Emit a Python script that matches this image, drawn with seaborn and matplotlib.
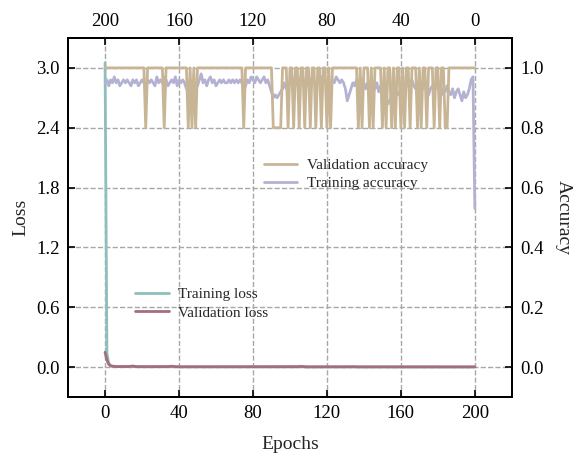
import numpy as np
import matplotlib
matplotlib.use("Agg")
import matplotlib.pyplot as plt
from matplotlib.ticker import FormatStrFormatter
import seaborn as sns

# ---- data -----------------------------------------------------------------
epochs = np.arange(201)

train_loss = [
    3.05, 0.14, 0.040, 0.016, 0.011, 0.009, 0.008, 0.007, 0.007, 0.006,
    0.006, 0.006, 0.005, 0.006, 0.005, 0.007, 0.006, 0.005, 0.005, 0.006,
    0.005, 0.005, 0.004, 0.005, 0.005, 0.004, 0.005, 0.005, 0.004, 0.004,
    0.005, 0.004, 0.004, 0.005, 0.004, 0.004, 0.005, 0.006, 0.004, 0.004,
    0.004, 0.004, 0.003, 0.004, 0.004, 0.003, 0.004, 0.004, 0.003, 0.004,
    0.003, 0.004, 0.003, 0.003, 0.004, 0.003, 0.003, 0.004, 0.003, 0.003,
    0.003, 0.003, 0.004, 0.003, 0.003, 0.003, 0.003, 0.004, 0.003, 0.003,
    0.003, 0.003, 0.003, 0.003, 0.004, 0.003, 0.003, 0.003, 0.003, 0.003,
    0.003, 0.003, 0.003, 0.003, 0.003, 0.003, 0.004, 0.003, 0.003, 0.003,
    0.003, 0.003, 0.003, 0.003, 0.003, 0.003, 0.003, 0.003, 0.003, 0.003,
    0.003, 0.003, 0.003, 0.003, 0.003, 0.004, 0.004, 0.003, 0.003, 0.003,
    0.003, 0.003, 0.003, 0.003, 0.003, 0.003, 0.003, 0.003, 0.003, 0.003,
    0.003, 0.003, 0.003, 0.003, 0.003, 0.003, 0.003, 0.003, 0.003, 0.003,
    0.003, 0.003, 0.003, 0.003, 0.003, 0.003, 0.003, 0.003, 0.003, 0.003,
    0.003, 0.003, 0.003, 0.003, 0.003, 0.003, 0.003, 0.003, 0.003, 0.003,
    0.003, 0.003, 0.003, 0.003, 0.003, 0.003, 0.003, 0.003, 0.003, 0.003,
    0.003, 0.003, 0.003, 0.003, 0.003, 0.003, 0.003, 0.003, 0.003, 0.003,
    0.003, 0.003, 0.003, 0.003, 0.003, 0.003, 0.003, 0.003, 0.003, 0.003,
    0.003, 0.003, 0.003, 0.003, 0.003, 0.003, 0.003, 0.003, 0.003, 0.003,
    0.003, 0.003, 0.003, 0.003, 0.003, 0.003, 0.003, 0.003, 0.003, 0.003,
    0.003,
]

val_loss = [
    0.150, 0.070, 0.028, 0.014, 0.009, 0.007, 0.006, 0.006, 0.005, 0.005,
    0.005, 0.005, 0.006, 0.007, 0.009, 0.012, 0.008, 0.006, 0.005, 0.005,
    0.004, 0.005, 0.004, 0.004, 0.005, 0.004, 0.004, 0.005, 0.004, 0.004,
    0.004, 0.004, 0.005, 0.004, 0.006, 0.008, 0.010, 0.007, 0.005, 0.004,
    0.004, 0.004, 0.003, 0.004, 0.004, 0.003, 0.004, 0.004, 0.003, 0.003,
    0.003, 0.004, 0.003, 0.003, 0.004, 0.003, 0.003, 0.004, 0.003, 0.003,
    0.003, 0.003, 0.004, 0.003, 0.003, 0.003, 0.003, 0.004, 0.003, 0.003,
    0.003, 0.003, 0.003, 0.003, 0.004, 0.003, 0.003, 0.003, 0.003, 0.003,
    0.003, 0.003, 0.003, 0.003, 0.003, 0.003, 0.004, 0.003, 0.003, 0.003,
    0.003, 0.003, 0.003, 0.003, 0.003, 0.003, 0.003, 0.003, 0.003, 0.003,
    0.003, 0.003, 0.003, 0.004, 0.005, 0.007, 0.008, 0.006, 0.004, 0.003,
    0.003, 0.003, 0.003, 0.003, 0.003, 0.003, 0.003, 0.003, 0.003, 0.003,
    0.003, 0.003, 0.003, 0.003, 0.003, 0.003, 0.003, 0.003, 0.003, 0.003,
    0.003, 0.003, 0.003, 0.004, 0.005, 0.004, 0.003, 0.003, 0.003, 0.003,
    0.003, 0.003, 0.003, 0.003, 0.003, 0.003, 0.003, 0.003, 0.003, 0.003,
    0.003, 0.003, 0.003, 0.003, 0.003, 0.003, 0.003, 0.003, 0.003, 0.003,
    0.003, 0.003, 0.003, 0.003, 0.003, 0.003, 0.003, 0.003, 0.003, 0.003,
    0.003, 0.003, 0.003, 0.003, 0.003, 0.003, 0.003, 0.003, 0.003, 0.003,
    0.003, 0.003, 0.003, 0.003, 0.003, 0.003, 0.003, 0.003, 0.003, 0.003,
    0.003, 0.003, 0.003, 0.003, 0.003, 0.003, 0.003, 0.003, 0.003, 0.003,
    0.003,
]

train_acc = [
    0.53, 0.97, 0.96, 0.93, 0.91, 0.90, 0.92, 0.89, 0.91, 0.93,
    0.92, 0.90, 0.93, 0.91, 0.92, 0.94, 0.92, 0.93, 0.91, 0.94,
    0.93, 0.95, 0.92, 0.94, 0.93, 0.91, 0.94, 0.95, 0.93, 0.94,
    0.92, 0.95, 0.93, 0.94, 0.96, 0.93, 0.95, 0.94, 0.92, 0.94,
    0.93, 0.91, 0.92, 0.90, 0.93, 0.91, 0.89, 0.88, 0.90, 0.92,
    0.93, 0.94, 0.92, 0.95, 0.93, 0.94, 0.96, 0.94, 0.95, 0.93,
    0.95, 0.96, 0.94, 0.95, 0.96, 0.94, 0.95, 0.93, 0.91, 0.89,
    0.93, 0.95, 0.96, 0.95, 0.96, 0.97, 0.95, 0.96, 0.94, 0.92,
    0.94, 0.96, 0.95, 0.97, 0.95, 0.96, 0.94, 0.96, 0.97, 0.95,
    0.96, 0.94, 0.96, 0.95, 0.97, 0.95, 0.96, 0.94, 0.96, 0.97,
    0.95, 0.94, 0.93, 0.95, 0.93, 0.92, 0.91, 0.90, 0.91, 0.90,
    0.92, 0.94, 0.96, 0.95, 0.97, 0.96, 0.95, 0.96, 0.97, 0.95,
    0.96, 0.97, 0.95, 0.96, 0.94, 0.93, 0.95, 0.96, 0.95, 0.96,
    0.95, 0.96, 0.95, 0.96, 0.95, 0.95, 0.96, 0.95, 0.96, 0.95,
    0.94, 0.96, 0.95, 0.97, 0.96, 0.94, 0.96, 0.95, 0.98, 0.96,
    0.94, 0.93, 0.95, 0.94, 0.96, 0.95, 0.93, 0.95, 0.96, 0.95,
    0.96, 0.94, 0.97, 0.95, 0.96, 0.95, 0.94, 0.96, 0.97, 0.95,
    0.96, 0.95, 0.97, 0.94, 0.95, 0.96, 0.95, 0.96, 0.94, 0.95,
    0.96, 0.95, 0.94, 0.96, 0.95, 0.96, 0.94, 0.95, 0.96, 0.95,
    0.96, 0.95, 0.94, 0.96, 0.95, 0.97, 0.95, 0.96, 0.94, 0.96,
    0.95,
]

val_acc = [
    1.0, 1.0, 1.0, 1.0, 1.0, 1.0, 1.0, 1.0, 1.0, 1.0,
    1.0, 1.0, 1.0, 1.0, 1.0, 0.8, 0.8, 1.0, 1.0, 0.8,
    1.0, 1.0, 0.8, 1.0, 1.0, 1.0, 0.8, 1.0, 1.0, 0.8,
    1.0, 0.8, 1.0, 1.0, 1.0, 0.8, 1.0, 1.0, 0.8, 1.0,
    0.8, 1.0, 1.0, 0.8, 1.0, 0.8, 1.0, 1.0, 0.8, 1.0,
    0.8, 1.0, 1.0, 1.0, 1.0, 0.8, 1.0, 0.8, 1.0, 1.0,
    1.0, 0.8, 1.0, 0.8, 1.0, 1.0, 1.0, 1.0, 1.0, 1.0,
    1.0, 1.0, 1.0, 1.0, 1.0, 1.0, 1.0, 1.0, 0.8, 1.0,
    0.8, 1.0, 1.0, 0.8, 1.0, 1.0, 0.8, 1.0, 1.0, 0.8,
    1.0, 1.0, 0.8, 1.0, 1.0, 0.8, 1.0, 1.0, 0.8, 1.0,
    1.0, 0.8, 1.0, 1.0, 1.0, 0.8, 0.8, 0.8, 0.8, 0.8,
    1.0, 1.0, 1.0, 1.0, 1.0, 1.0, 1.0, 1.0, 1.0, 1.0,
    1.0, 1.0, 1.0, 1.0, 1.0, 0.8, 1.0, 1.0, 1.0, 1.0,
    1.0, 1.0, 1.0, 1.0, 1.0, 1.0, 1.0, 1.0, 1.0, 1.0,
    1.0, 1.0, 1.0, 1.0, 1.0, 1.0, 1.0, 1.0, 1.0, 1.0,
    1.0, 0.8, 1.0, 0.8, 1.0, 0.8, 1.0, 1.0, 1.0, 1.0,
    1.0, 1.0, 1.0, 1.0, 1.0, 1.0, 1.0, 1.0, 0.8, 1.0,
    1.0, 1.0, 1.0, 1.0, 1.0, 1.0, 1.0, 1.0, 0.8, 1.0,
    1.0, 1.0, 1.0, 1.0, 1.0, 1.0, 1.0, 1.0, 1.0, 1.0,
    1.0, 1.0, 1.0, 1.0, 1.0, 1.0, 1.0, 1.0, 1.0, 1.0,
    1.0,
]

loss_ticks = [0.0, 0.6, 1.2, 1.8, 2.4, 3.0]
acc_ticks = [0.0, 0.2, 0.4, 0.6, 0.8, 1.0]
epoch_ticks = [0, 40, 80, 120, 160, 200]

# ---- style ----------------------------------------------------------------
sns.set_theme(style="ticks")
plt.rcParams["font.family"] = ["Liberation Serif", "DejaVu Serif"]
plt.rcParams["axes.edgecolor"] = "black"
plt.rcParams["axes.linewidth"] = 1.4

C_TLOSS = "#8EBFBC"
C_VLOSS = "#A46D80"
C_VACC = "#C8B596"
C_TACC = "#B3B2D3"

fig = plt.figure(figsize=(5.77, 4.57), dpi=100)
ax = fig.add_axes([0.118, 0.131, 0.769, 0.786])
ax_r = ax.twinx()
ax_t = ax_r.twiny()

# loss curves on the bottom/left axes
sns.lineplot(x=epochs, y=train_loss, ax=ax, color=C_TLOSS, linewidth=2.0,
             label="Training loss")
sns.lineplot(x=epochs, y=val_loss, ax=ax, color=C_VLOSS, linewidth=2.0,
             label="Validation loss")

# accuracy curves on the top (reversed) / right axes
sns.lineplot(x=epochs, y=val_acc, ax=ax_t, color=C_VACC, linewidth=2.0,
             label="Validation accuracy", zorder=3)
sns.lineplot(x=epochs, y=train_acc, ax=ax_t, color=C_TACC, linewidth=2.0,
             label="Training accuracy", zorder=2)

ax.set_xlim(-20, 220)
ax.set_ylim(-0.3, 3.3)
ax.set_xticks(epoch_ticks)
ax.set_yticks(loss_ticks)
ax.yaxis.set_major_formatter(FormatStrFormatter("%.1f"))

ax_r.set_ylim(-0.1, 1.1)
ax_r.set_yticks(acc_ticks)
ax_r.yaxis.set_major_formatter(FormatStrFormatter("%.1f"))

ax_t.set_xlim(220, -20)
ax_t.set_xticks(epoch_ticks)

ax.grid(True, linestyle="--", color="#a8a8a8", linewidth=1.0)

ax.set_xlabel("Epochs", fontsize=14, labelpad=10)
ax.set_ylabel("Loss", fontsize=14, labelpad=5)
ax_r.set_ylabel("Accuracy", fontsize=14, rotation=270, labelpad=20)

for a in (ax, ax_r, ax_t):
    a.tick_params(direction="in", length=5, width=1.2, labelsize=13.5,
                  colors="black", pad=6)
    for s in a.spines.values():
        s.set_linewidth(1.4)
        s.set_color("black")

ax.legend(frameon=False, loc="center left", bbox_to_anchor=(0.12, 0.26),
          fontsize=11, handlelength=2.2, handletextpad=0.6, labelspacing=0.3)
ax_t.legend(frameon=False, loc="center left", bbox_to_anchor=(0.41, 0.62),
            fontsize=11, handlelength=2.2, handletextpad=0.6, labelspacing=0.3)

fig.savefig("out.png", dpi=100)
